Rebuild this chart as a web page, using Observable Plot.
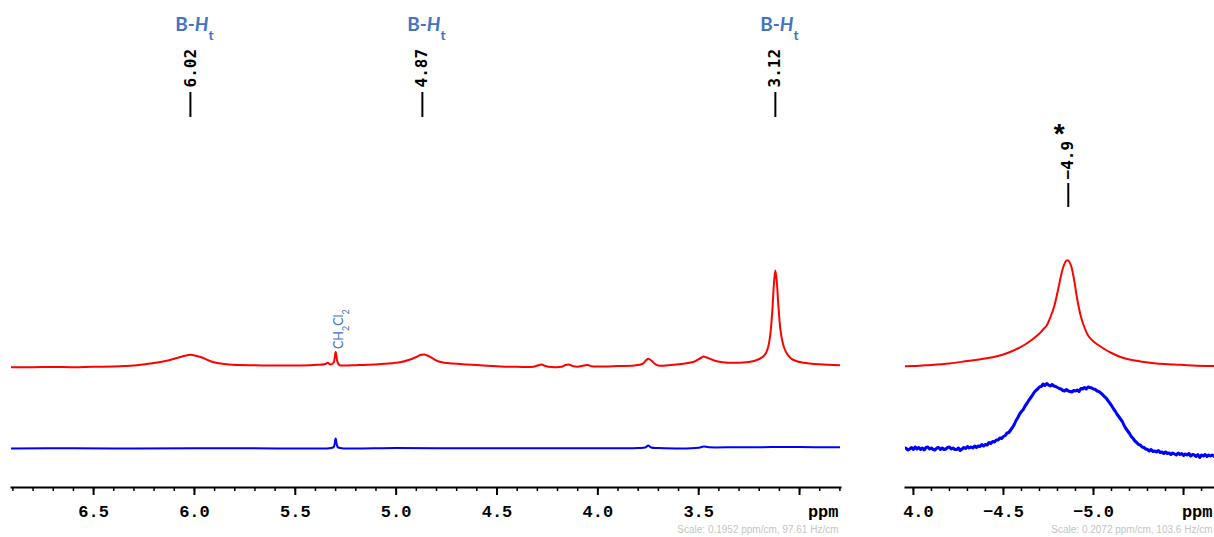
<!DOCTYPE html>
<html>
<head>
<meta charset="utf-8">
<script src="https://cdn.jsdelivr.net/npm/d3@7"></script>
<script src="https://cdn.jsdelivr.net/npm/@observablehq/plot@0.6"></script>
<style>
  body { margin: 0; background: #fff; }
  #chart { position: relative; width: 1214px; height: 537px; overflow: hidden; background: #fff; }
  #chart svg { position: absolute; top: 0; overflow: hidden; }
</style>
</head>
<body>
<div id="chart"></div>
<script>
// ---- 1H region (ppm, intensity above each trace's baseline) ----
const redProton = [
  [6.907, 0.3], [6.80, 0.3], [6.70, 0.5], [6.60, 0.3], [6.50, 0.8], [6.40, 1], [6.30, 2],
  [6.22, 4], [6.13, 7], [6.07, 10.5], [6.03, 12.6], [6.01, 12.6], [5.97, 10.5], [5.905, 5.3],
  [5.85, 3.5], [5.81, 2.7], [5.70, 2.2], [5.60, 2], [5.47, 2], [5.39, 2.7], [5.35, 3.5],
  [5.34, 4.7], [5.325, 3], [5.31, 5], [5.30, 15.5], [5.29, 5], [5.28, 2.2], [5.26, 2],
  [5.20, 2.3], [5.14, 2.7], [5.06, 3.8], [4.98, 5.3], [4.93, 8], [4.90, 10.5], [4.88, 12.5],
  [4.86, 13], [4.84, 11.5], [4.81, 8], [4.78, 5.5], [4.72, 4], [4.65, 3], [4.55, 1.8],
  [4.48, 1], [4.40, 0.7], [4.32, 0.8], [4.29, 2.5], [4.28, 3], [4.26, 1.5], [4.23, 0.5],
  [4.18, 0.8], [4.16, 2.5], [4.14, 2.8], [4.12, 1.2], [4.10, 0.8], [4.07, 2], [4.05, 2.6],
  [4.03, 1.2], [3.99, 1], [3.90, 1.5], [3.82, 2], [3.78, 3.5], [3.76, 7.5], [3.75, 8.7],
  [3.735, 7], [3.72, 4], [3.70, 2], [3.65, 2.2], [3.575, 3.7], [3.52, 6], [3.49, 9.5],
  [3.475, 11], [3.46, 10], [3.43, 7.5], [3.41, 6.3], [3.37, 5], [3.33, 4.7], [3.28, 5],
  [3.23, 6.3], [3.20, 8.5], [3.18, 11], [3.165, 15], [3.155, 21], [3.145, 33], [3.135, 57],
  [3.127, 84], [3.12, 97], [3.113, 86], [3.105, 62], [3.095, 38], [3.085, 26], [3.075, 19],
  [3.06, 13], [3.045, 9.5], [3.03, 7.5], [3.00, 5.5], [2.95, 4], [2.90, 3.2], [2.797, 2.3]
];
const blueProton = [
  [6.907, 0], [6.60, 0.2], [6.30, 0], [6.00, 0.3], [5.70, 0.2], [5.40, 0], [5.33, 0.3],
  [5.31, 1.5], [5.30, 10], [5.29, 1.5], [5.27, 0.3], [5.00, 0.5], [4.70, 0.3], [4.40, 0.3],
  [4.10, 0.2], [3.80, 0.5], [3.765, 1], [3.75, 3], [3.735, 1], [3.70, 0.5], [3.50, 0.8],
  [3.475, 2], [3.45, 1.2], [3.30, 1.3], [3.00, 1.4], [2.797, 1.2]
];

// ---- hydride region ----
const redHydride = [
  [-3.956, 1.3], [-4.00, 1.5], [-4.05, 2], [-4.10, 2.5], [-4.20, 4], [-4.30, 6.5], [-4.40, 9],
  [-4.47, 11.5], [-4.53, 15], [-4.58, 19], [-4.62, 23], [-4.66, 28], [-4.70, 34], [-4.72, 38],
  [-4.74, 42], [-4.76, 50], [-4.78, 60], [-4.80, 75], [-4.82, 92], [-4.835, 102], [-4.85, 107],
  [-4.86, 107], [-4.875, 102], [-4.89, 90], [-4.91, 68], [-4.93, 51], [-4.95, 40], [-4.97, 32],
  [-5.00, 26], [-5.03, 22], [-5.06, 18.5], [-5.10, 14.5], [-5.15, 10.5], [-5.20, 8], [-5.27, 5.8],
  [-5.35, 4], [-5.45, 3], [-5.55, 2], [-5.672, 1.5]
];
const blueHydride = [
  [-3.956, 0.5], [-3.97, -1.5], [-3.98, -0.5], [-3.99, 1], [-4.00, -1], [-4.01, 1.5], [-4.02, -0.5],
  [-4.03, 1], [-4.04, -1], [-4.05, 0.5], [-4.06, -1.5], [-4.07, 1], [-4.08, 1.5], [-4.09, -0.5],
  [-4.10, 0.5], [-4.11, -1], [-4.12, -1.5], [-4.13, 0.5], [-4.14, 1], [-4.15, -1], [-4.16, 0.5],
  [-4.17, -1], [-4.18, -0.5], [-4.19, 1], [-4.20, 1.5], [-4.21, -0.5], [-4.22, 0.5], [-4.23, -1],
  [-4.24, -1], [-4.25, 0.5], [-4.26, -2], [-4.27, -0.5], [-4.28, 1], [-4.29, 0], [-4.30, 2],
  [-4.31, 0.5], [-4.32, 1.5], [-4.33, 0.5], [-4.34, 2.5], [-4.35, 1], [-4.36, 2.5], [-4.37, 2],
  [-4.38, 4], [-4.39, 2.5], [-4.40, 4], [-4.41, 3.5], [-4.42, 6], [-4.43, 5], [-4.44, 7],
  [-4.45, 6.5], [-4.46, 8.5], [-4.47, 8.5], [-4.48, 10.5], [-4.49, 10], [-4.50, 12],
  [-4.51, 13], [-4.52, 15.5], [-4.53, 16], [-4.54, 18.5], [-4.55, 21], [-4.56, 24], [-4.57, 28],
  [-4.58, 31], [-4.59, 34.5], [-4.60, 37], [-4.61, 39], [-4.62, 42.5], [-4.63, 45], [-4.64, 48],
  [-4.65, 50.5], [-4.66, 53], [-4.67, 56], [-4.68, 58], [-4.69, 59.5], [-4.70, 61.5], [-4.71, 62],
  [-4.72, 64.5], [-4.73, 63], [-4.74, 65], [-4.75, 63.5], [-4.76, 62.5], [-4.77, 64], [-4.78, 62.5],
  [-4.79, 62], [-4.80, 61], [-4.81, 60], [-4.82, 59.5], [-4.83, 58], [-4.84, 57.5], [-4.85, 59],
  [-4.86, 57.5], [-4.87, 57], [-4.88, 56.5], [-4.89, 58], [-4.90, 57.5], [-4.91, 58.5], [-4.92, 57],
  [-4.93, 60], [-4.94, 59.5], [-4.95, 61], [-4.96, 59.5], [-4.97, 61.5], [-4.98, 61], [-4.99, 60.5],
  [-5.00, 59.5], [-5.01, 59], [-5.02, 57.5], [-5.03, 57], [-5.04, 55.5], [-5.05, 54], [-5.06, 52],
  [-5.07, 50.5], [-5.08, 48], [-5.09, 45.5], [-5.10, 43], [-5.11, 40], [-5.12, 37.5], [-5.13, 34.5],
  [-5.14, 32], [-5.15, 29.5], [-5.16, 27], [-5.17, 23], [-5.18, 20], [-5.19, 17.5], [-5.20, 15],
  [-5.21, 12], [-5.22, 10], [-5.23, 7.5], [-5.24, 6], [-5.25, 4], [-5.26, 3.5], [-5.27, 1.5],
  [-5.28, 1], [-5.29, -0.5], [-5.30, -1], [-5.31, -2.5], [-5.32, -1], [-5.33, -3], [-5.34, -2.5],
  [-5.35, -3.5], [-5.36, -2], [-5.37, -4], [-5.38, -3.5], [-5.39, -5], [-5.40, -3.5], [-5.41, -5],
  [-5.42, -4.5], [-5.43, -6], [-5.44, -4.5], [-5.45, -5.5], [-5.46, -6.5], [-5.47, -4.5],
  [-5.48, -6], [-5.49, -5], [-5.50, -7], [-5.51, -5.5], [-5.52, -6.5], [-5.53, -5], [-5.54, -7.5],
  [-5.55, -6], [-5.56, -6.5], [-5.57, -8], [-5.58, -6], [-5.59, -9], [-5.60, -6.5], [-5.61, -7.5],
  [-5.62, -6], [-5.63, -8], [-5.64, -6.5], [-5.65, -7.5], [-5.66, -6.5], [-5.672, -8]
];

// ---- axes, peak picks and labels ----
const protonDomain = [6.907, 2.797];
const hydrideDomain = [-3.956, -5.672];
const protonMajorTicks = [6.5, 6.0, 5.5, 5.0, 4.5, 4.0, 3.5, 3.0];
const protonTickLabels = ["6.5", "6.0", "5.5", "5.0", "4.5", "4.0", "3.5", ""];
const protonMinorTicks = d3.range(69, 27, -1).map(d => d / 10);
const hydrideMajorTicks = [-4.0, -4.5, -5.0, -5.5];
const hydrideTickLabels = ["", "\u22124.5", "\u22125.0", ""];
const hydrideEdgeTick = [{ppm: -4.0, label: "4.0"}];
const hydrideMinorTicks = d3.range(-40, -57, -1).map(d => d / 10);
const protonPeaks = [6.02, 4.87, 3.12];
const hydridePeaks = [-4.86];
const protonAssign = ["B-*H*_t", "B-*H*_t", "B-*H*_t"];
const solventPeak = [{ppm: 5.30, label: "CH_2Cl_2"}];
const protonScale = "Scale: 0.1952 ppm/cm, 97.61 Hz/cm";
const hydrideScale = "Scale: 0.2072 ppm/cm, 103.6 Hz/cm";
const unitLabel = "ppm";

// the second trace is stacked below the first
const STACK = -81;
const RED = "#ff0000", BLUE = "#0000ff", ASSIGN = "#4472c4";
const MONO = "'Liberation Mono', 'DejaVu Sans Mono', monospace";
const PICK = "'DejaVu Sans Mono', monospace";
const TICK_FONT = {fontSize: 17, fontWeight: "bold", fontFamily: MONO, fill: "#000"};

// text render with *italic* and _x subscript markup
function richText(index, scales, values, dimensions, context, next) {
  const g = next(index, scales, values, dimensions, context);
  for (const node of g.querySelectorAll("text")) {
    const src = node.textContent;
    node.textContent = "";
    let italic = false;
    for (let i = 0; i < src.length; ++i) {
      const c = src[i];
      if (c === "*") { italic = !italic; continue; }
      const ts = document.createElementNS("http://www.w3.org/2000/svg", "tspan");
      if (c === "_") {
        ts.textContent = src[++i];
        ts.setAttribute("font-size", "72%");
        ts.setAttribute("baseline-shift", "sub");
      } else {
        ts.textContent = c;
      }
      if (italic) ts.setAttribute("font-style", "italic");
      node.appendChild(ts);
    }
  }
  return g;
}

const fmt1 = d3.format(".1f");
const fmt2 = d3.format(".2f");

function axisMarks(major, labels, minor, scaleText, rightDx) {
  return [
    Plot.frame({anchor: "bottom", strokeWidth: 2}),
    Plot.axisX(minor, {tickSize: 4, strokeWidth: 1.5, tickFormat: () => ""}),
    Plot.axisX(major, {
      tickSize: 8, tickPadding: 9, strokeWidth: 2,
      tickFormat: d => labels[major.indexOf(d)],
      ...TICK_FONT
    }),
    Plot.text([unitLabel], {
      frameAnchor: "bottom-right", textAnchor: "end", lineAnchor: "top",
      dx: rightDx, dy: 17, ...TICK_FONT
    }),
    Plot.text([scaleText], {
      frameAnchor: "bottom-right", textAnchor: "end", lineAnchor: "middle",
      dx: rightDx, dy: 42, fontSize: 10, fontFamily: "'Liberation Sans', Arial, sans-serif",
      fill: "#c4c4c4"
    })
  ];
}

const yScale = {domain: [0, 100], range: [367, 267], axis: null};

const proton = Plot.plot({
  width: 880, height: 537,
  marginLeft: 11, marginRight: 40, marginTop: 0, marginBottom: 50,
  x: {domain: protonDomain, label: null},
  y: yScale,
  style: {background: "transparent", overflow: "hidden"},
  marks: [
    Plot.line(blueProton, {x: d => d[0], y: d => d[1] + STACK, stroke: BLUE, strokeWidth: 2,
      curve: "catmull-rom", clip: true}),
    Plot.line(redProton, {x: d => d[0], y: d => d[1], stroke: RED, strokeWidth: 2,
      curve: "catmull-rom", clip: true}),
    ...axisMarks(protonMajorTicks, protonTickLabels, protonMinorTicks, protonScale, -2),
    Plot.ruleX(protonPeaks, {x: d => d, insetTop: 92, insetBottom: 370, stroke: "#000", strokeWidth: 2}),
    Plot.text(protonPeaks, {
      x: d => d, text: d => fmt2(d), rotate: -90, frameAnchor: "top", dy: 87,
      textAnchor: "start", lineAnchor: "middle", fontSize: 16, fontWeight: "bold",
      fontFamily: PICK, fill: "#000"
    }),
    Plot.text(protonPeaks, {
      x: d => d, text: (d, i) => protonAssign[i], frameAnchor: "top", dy: 24, dx: 4,
      textAnchor: "middle", lineAnchor: "middle", fontSize: 19, fontWeight: "bold",
      fontFamily: "Lato, 'Open Sans', sans-serif", fill: ASSIGN, render: richText
    }),
    Plot.text(solventPeak, {
      x: "ppm",
      y: d => redProton.find(p => p[0] === d.ppm)[1],
      text: "label", rotate: -90, dx: 3, dy: -3,
      textAnchor: "start", lineAnchor: "middle", fontSize: 12.5,
      fontFamily: "Lato, 'Open Sans', sans-serif", fill: ASSIGN, render: richText
    })
  ]
});

const hydride = Plot.plot({
  width: 314, height: 537,
  marginLeft: 5, marginRight: 0, marginTop: 0, marginBottom: 50,
  x: {domain: hydrideDomain, label: null},
  y: yScale,
  style: {background: "transparent", overflow: "hidden"},
  marks: [
    Plot.line(blueHydride, {x: d => d[0], y: d => d[1] + STACK, stroke: BLUE, strokeWidth: 3,
      curve: "linear", clip: true}),
    Plot.line(redHydride, {x: d => d[0], y: d => d[1], stroke: RED, strokeWidth: 2,
      curve: "catmull-rom", clip: true}),
    ...axisMarks(hydrideMajorTicks, hydrideTickLabels, hydrideMinorTicks, hydrideScale, -2),
    // the left edge cuts the sign off the first label
    Plot.text(hydrideEdgeTick, {
      x: "ppm", text: "label", frameAnchor: "bottom", dx: 5, dy: 17,
      textAnchor: "middle", lineAnchor: "top", ...TICK_FONT
    }),
    Plot.ruleX(hydridePeaks, {x: d => d, insetTop: 183, insetBottom: 280, stroke: "#000", strokeWidth: 2}),
    Plot.text(hydridePeaks, {
      x: d => d, text: d => fmt1(d), rotate: -90, frameAnchor: "top", dy: 179,
      textAnchor: "start", lineAnchor: "middle", fontSize: 16, fontWeight: "bold",
      fontFamily: PICK, fill: "#000"
    }),
    Plot.text(hydridePeaks, {
      x: d => d, text: () => "*", frameAnchor: "top", dy: 134, dx: -9,
      textAnchor: "middle", lineAnchor: "middle", fontSize: 28, fontWeight: "bold",
      fontFamily: "'Liberation Sans', Arial, sans-serif", fill: "#000"
    })
  ]
});

proton.style.left = "0px";
hydride.style.left = "900px";
const chart = document.getElementById("chart");
chart.append(proton, hydride);
</script>
</body>
</html>
